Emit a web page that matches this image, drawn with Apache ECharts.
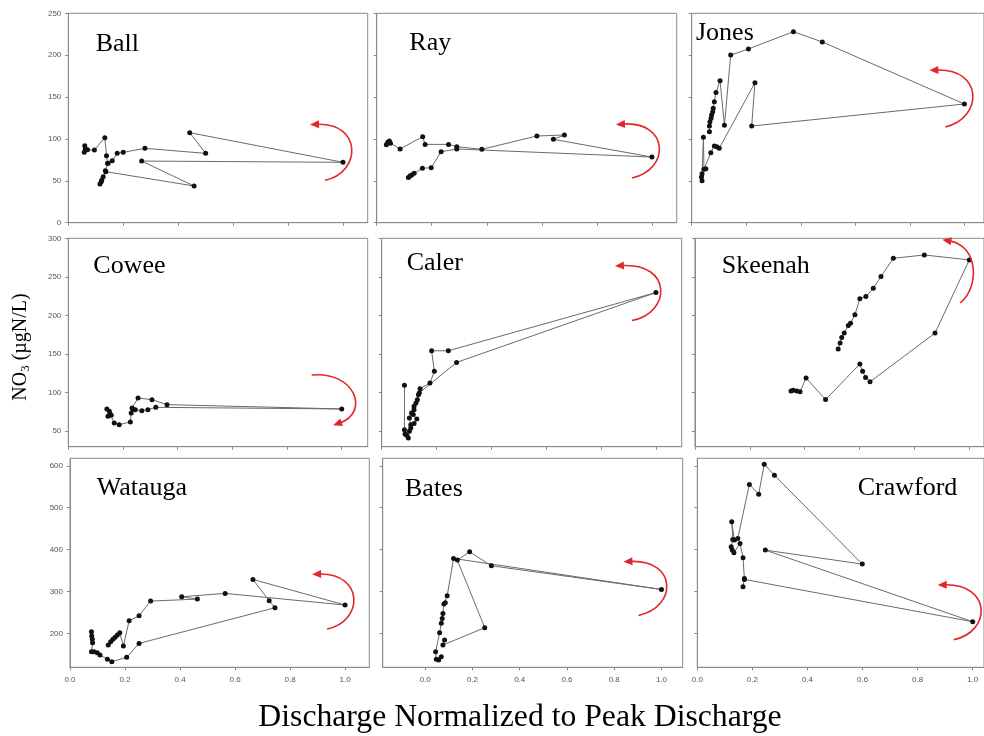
<!DOCTYPE html>
<html>
<head>
<meta charset="utf-8">
<script src="https://cdn.jsdelivr.net/npm/echarts@6/dist/echarts.min.js"></script>
<style>
  html, body { margin: 0; padding: 0; background: #ffffff; }
  #chart { width: 984px; height: 736px; }
</style>
</head>
<body>
<div id="chart"></div>
<script>
// Storm-event hysteresis of nitrate vs. normalized discharge, nine watersheds.
// Each site: discharge normalized to peak (Q) and NO3 concentration (N, µgN/L), in sampling order.

const sites = ['Ball', 'Ray', 'Jones', 'Cowee', 'Caler', 'Skeenah', 'Watauga', 'Bates', 'Crawford'];

const ballQ = [0.06, 0.062, 0.058, 0.07, 0.095, 0.133, 0.139, 0.143, 0.135, 0.127, 0.12, 0.115, 0.122, 0.137, 0.458, 0.267, 1.0, 0.442, 0.5, 0.279, 0.2, 0.178, 0.16, 0.145];
const ballN = [92, 88, 84, 87, 86.8, 101.5, 80, 70.9, 62.1, 54.9, 49, 46.2, 51, 60.9, 43.8, 73.6, 72.1, 107.5, 82.8, 88.8, 84, 82.8, 74, 70.9];

const rayQ = [0.035, 0.04, 0.046, 0.05, 0.085, 0.167, 0.176, 0.261, 0.291, 0.382, 0.582, 0.682, 0.642, 1.0, 0.291, 0.234, 0.198, 0.166, 0.136, 0.127, 0.121, 0.115];
const rayN = [93, 96, 97.5, 95, 88, 102.7, 93.5, 93.5, 90.8, 87.6, 103.5, 104.7, 99.5, 78.4, 88, 84.8, 65.7, 64.9, 58.9, 56.9, 55.7, 54.1];

const jonesQ = [0.038, 0.036, 0.038, 0.043, 0.045, 0.052, 0.07, 0.083, 0.092, 0.101, 0.232, 0.22, 1.0, 0.479, 0.373, 0.208, 0.143, 0.12, 0.104, 0.089, 0.083, 0.079, 0.077, 0.073, 0.071, 0.067, 0.065, 0.065];
const jonesN = [50.2, 54.5, 58.5, 101.9, 63.7, 64.5, 83.6, 91.6, 90.8, 88.8, 167.2, 115.4, 141.7, 215.8, 228.1, 207.4, 200.2, 116.2, 169.6, 155.3, 144.5, 136.5, 132.6, 128.6, 124.6, 120.6, 115.4, 108.7];

const coweeQ = [0.141, 0.15, 0.145, 0.153, 0.157, 0.168, 0.186, 0.227, 0.23, 0.233, 0.255, 0.306, 0.361, 1.0, 0.32, 0.291, 0.269, 0.245, 0.236];
const coweeN = [78.9, 75.9, 69.4, 72.4, 70.7, 60.8, 58.6, 62.1, 73.7, 80.2, 93.1, 90.9, 84.5, 78.9, 81, 78, 76.7, 78, 78.9];

const calerQ = [0.083, 0.083, 0.085, 0.091, 0.097, 0.101, 0.106, 0.101, 0.109, 0.118, 0.125, 0.137, 0.273, 1.0, 0.243, 0.182, 0.192, 0.176, 0.14, 0.134, 0.13, 0.118, 0.115, 0.128, 0.118, 0.106];
const calerN = [109.5, 52, 46.6, 44.8, 41.4, 50, 58.6, 67.2, 73.7, 82.3, 86.6, 99.6, 139.2, 229.7, 154.3, 154.3, 127.6, 112.5, 105.2, 97.4, 90.9, 78, 71.6, 65.9, 60, 54.3];

const skeenahQ = [0.35, 0.358, 0.371, 0.383, 0.405, 0.476, 0.601, 0.611, 0.622, 0.638, 0.875, 1.0, 0.836, 0.723, 0.678, 0.65, 0.623, 0.601, 0.583, 0.567, 0.559, 0.544, 0.535, 0.529, 0.522];
const skeenahN = [102.2, 103, 102.2, 101.3, 119, 91, 137.1, 127.6, 119.8, 114.1, 177.2, 272, 278.4, 274.1, 250.4, 235.3, 224.6, 221.6, 200.9, 190, 187, 177.2, 171.6, 164.2, 156.5];

const wataugaQ = [0.078, 0.079, 0.081, 0.082, 0.078, 0.087, 0.099, 0.109, 0.136, 0.152, 0.206, 0.251, 0.745, 0.724, 0.665, 1.0, 0.564, 0.406, 0.463, 0.293, 0.251, 0.215, 0.194, 0.181, 0.172, 0.164, 0.156, 0.148, 0.139];
const wataugaN = [204, 193.6, 185.7, 177.7, 156.3, 156.3, 153.9, 148.3, 138, 132.4, 142.7, 176.1, 261.2, 277.9, 328.8, 267.6, 295.4, 287.5, 281.9, 277.1, 242.1, 230.2, 169.8, 201.6, 196, 190.5, 185.7, 180.1, 172.2];

const batesQ = [0.068, 0.057, 0.047, 0.044, 0.061, 0.068, 0.072, 0.075, 0.079, 0.085, 0.093, 0.12, 1.0, 0.28, 0.188, 0.136, 0.252, 0.075, 0.082];
const batesN = [144.3, 136.3, 138, 156.3, 201.6, 223.9, 235.8, 247.7, 270, 273.2, 289.9, 378.9, 304.9, 361.4, 394.8, 374.9, 213.5, 172.2, 184.1];

const crawfordQ = [0.166, 0.171, 0.166, 0.155, 0.133, 0.127, 0.123, 0.129, 0.125, 0.135, 0.147, 0.189, 0.223, 0.243, 0.28, 0.599, 0.247, 1.0, 0.171];
const crawfordN = [311.3, 331.2, 380.5, 414.7, 392.4, 398.8, 406.8, 424.3, 466.4, 422.7, 426.6, 555.5, 532.4, 604, 577.7, 365.4, 398.8, 227.8, 328.8];

// Tick values
const xTicks = [0.0, 0.2, 0.4, 0.6, 0.8, 1.0];
const yTicksTop = [0, 50, 100, 150, 200, 250];
const yTicksMid = [50, 100, 150, 200, 250, 300];
const yTicksLow = [200, 300, 400, 500, 600];

const seriesQ = [ballQ, rayQ, jonesQ, coweeQ, calerQ, skeenahQ, wataugaQ, batesQ, crawfordQ];
const seriesN = [ballN, rayN, jonesN, coweeN, calerN, skeenahN, wataugaN, batesN, crawfordN];

// Panel frames (pixels) and axis extents; the right-hand column runs off the page edge
const rowFrames = [
  { top: 13.3, height: 209.4, yMin: 0, yMax: 250, ticks: yTicksTop },
  { top: 238.3, height: 208.4, yMin: 30, yMax: 300, ticks: yTicksMid },
  { top: 458.3, height: 209, yMin: 119, yMax: 618, ticks: yTicksLow }
];
const panelFrames = [
  { left: 68.3, width: 299.4, xMin: 0, xMax: 1.09 },
  { left: 376.7, width: 300, xMin: 0, xMax: 1.09 },
  { left: 691.7, width: 292.3, xMin: 0, xMax: 1.0719 },
  { left: 68.3, width: 299.4, xMin: 0, xMax: 1.095 },
  { left: 381.7, width: 300, xMin: 0, xMax: 1.094 },
  { left: 695, width: 289, xMin: 0, xMax: 1.0536 },
  { left: 70, width: 299.3, xMin: 0, xMax: 1.088 },
  { left: 382.7, width: 300, xMin: -0.18, xMax: 1.09 },
  { left: 697.3, width: 286.7, xMin: 0, xMax: 1.041 }
];

// Site name placement (left edge, vertical middle)
const namePos = [
  [95.7, 44.3], [409.3, 42.7], [696, 33.3],
  [93.3, 266], [406.7, 263.3], [721.7, 266],
  [96.7, 487.7], [405, 488.7], [857.7, 487.7]
];

// Rotation arrows drawn around the peak-discharge point (pixel offsets of a cubic curve)
const arrowShapes = [
  { p0: [-18, 18], c1: [19, 10], c2: [19, -40], p3: [-26, -38] },
  { p0: [-20, 21], c1: [18, 13], c2: [18, -36], p3: [-29, -33] },
  { p0: [-19, 23], c1: [19, 14], c2: [19, -36], p3: [-28, -34] },
  { p0: [-30, -34], c1: [14, -38], c2: [28, 4], p3: [-2, 14] },
  { p0: [-24, 28], c1: [16, 20], c2: [16, -30], p3: [-34, -27] },
  { p0: [-9, 43], c1: [10, 28], c2: [10, -14], p3: [-20, -19] },
  { p0: [-18, 24], c1: [19, 16], c2: [19, -32], p3: [-26, -31] },
  { p0: [-23, 26], c1: [16, 18], c2: [16, -30], p3: [-31, -28] },
  { p0: [-19, 18], c1: [19, 10], c2: [19, -38], p3: [-28, -37] }
];

const AXIS_GRAY = '#8a8a8a';
const LABEL_GRAY = '#555555';
const SERIF = "'Liberation Serif', 'Times New Roman', serif";
const SANS = "'Liberation Sans', Arial, sans-serif";
const ARROW_RED = '#e3262a';

function arrowRenderer(shape) {
  return function (params, api) {
    const c = api.coord([api.value(0), api.value(1)]);
    const P = (o) => [c[0] + o[0], c[1] + o[1]];
    const p0 = P(shape.p0), c1 = P(shape.c1), c2 = P(shape.c2), p3 = P(shape.p3);
    const dx = p3[0] - c2[0], dy = p3[1] - c2[1];
    const len = Math.hypot(dx, dy) || 1;
    const ux = dx / len, uy = dy / len;
    const tip = [p3[0] + ux * 7, p3[1] + uy * 7];
    const base = [p3[0] - ux * 2, p3[1] - uy * 2];
    const hw = 4;
    const a = [base[0] - uy * hw, base[1] + ux * hw];
    const b = [base[0] + uy * hw, base[1] - ux * hw];
    return {
      type: 'group',
      children: [
        {
          type: 'bezierCurve',
          shape: { x1: p0[0], y1: p0[1], cpx1: c1[0], cpy1: c1[1], cpx2: c2[0], cpy2: c2[1], x2: p3[0], y2: p3[1] },
          style: { stroke: ARROW_RED, fill: null, lineWidth: 1.6 }
        },
        { type: 'polygon', shape: { points: [tip, a, b] }, style: { fill: ARROW_RED } }
      ]
    };
  };
}

const grids = [], xAxes = [], yAxes = [], series = [], graphics = [];

sites.forEach((name, i) => {
  const row = rowFrames[Math.floor(i / 3)];
  const pf = panelFrames[i];
  const isLeftCol = i % 3 === 0;
  const isBottomRow = i >= 6;

  grids.push({
    left: pf.left, top: row.top, width: pf.width, height: row.height,
    show: true, borderColor: AXIS_GRAY, borderWidth: 1, backgroundColor: 'transparent',
    containLabel: false
  });

  xAxes.push({
    type: 'value', gridIndex: i, min: pf.xMin, max: pf.xMax,
    axisLine: { show: true, onZero: false, lineStyle: { color: AXIS_GRAY, width: 1 } },
    axisTick: { show: true, inside: false, length: 3, customValues: xTicks, lineStyle: { color: AXIS_GRAY } },
    axisLabel: {
      show: isBottomRow, customValues: xTicks, margin: 8,
      formatter: (v) => Number(v).toFixed(1),
      fontSize: 8, color: LABEL_GRAY, fontFamily: SANS
    },
    splitLine: { show: false }
  });

  yAxes.push({
    type: 'value', gridIndex: i, min: row.yMin, max: row.yMax,
    axisLine: { show: true, onZero: false, lineStyle: { color: AXIS_GRAY, width: 1 } },
    axisTick: { show: true, inside: false, length: 3, customValues: row.ticks, lineStyle: { color: AXIS_GRAY } },
    axisLabel: {
      show: isLeftCol, customValues: row.ticks, margin: 7,
      fontSize: 8, color: LABEL_GRAY, fontFamily: SANS
    },
    splitLine: { show: false }
  });

  const q = seriesQ[i], n = seriesN[i];
  const pts = q.map((v, k) => [v, n[k]]);

  series.push({
    type: 'line', xAxisIndex: i, yAxisIndex: i, data: pts,
    symbol: 'circle', symbolSize: 5, showSymbol: true,
    itemStyle: { color: '#111111' },
    lineStyle: { color: '#6a6a6a', width: 1 },
    silent: true, z: 3
  });

  // peak discharge sample anchors the rotation arrow
  let peak = 0;
  q.forEach((v, k) => { if (v > q[peak]) peak = k; });
  series.push({
    type: 'custom', xAxisIndex: i, yAxisIndex: i, coordinateSystem: 'cartesian2d',
    data: [[q[peak], n[peak]]], encode: { x: 0, y: 1 },
    renderItem: arrowRenderer(arrowShapes[i]), clip: false, silent: true, z: 4
  });

  graphics.push({
    type: 'text', x: namePos[i][0], y: namePos[i][1],
    style: { text: name, fill: '#000', font: '26px ' + SERIF, textAlign: 'left', textVerticalAlign: 'middle' },
    silent: true
  });
});

graphics.push({
  type: 'text', x: 520, y: 718,
  style: {
    text: 'Discharge Normalized to Peak Discharge', fill: '#000',
    font: '31.7px ' + SERIF, textAlign: 'center', textVerticalAlign: 'middle'
  },
  silent: true
});

graphics.push({
  type: 'text', x: 21, y: 347, rotation: Math.PI / 2,
  style: {
    text: '{a|NO}{b|3}{a| (µgN/L)}',
    rich: {
      a: { fontSize: 20, fontFamily: SERIF, fill: '#000', lineHeight: 24 },
      b: { fontSize: 13, fontFamily: SERIF, fill: '#000', lineHeight: 24, padding: [10, 0, 0, 0] }
    },
    textAlign: 'center', textVerticalAlign: 'middle'
  },
  silent: true
});

const chart = echarts.init(document.getElementById('chart'), null, { renderer: 'canvas' });
chart.setOption({
  backgroundColor: '#ffffff',
  animation: false,
  grid: grids,
  xAxis: xAxes,
  yAxis: yAxes,
  series: series,
  graphic: graphics
});
</script>
</body>
</html>
